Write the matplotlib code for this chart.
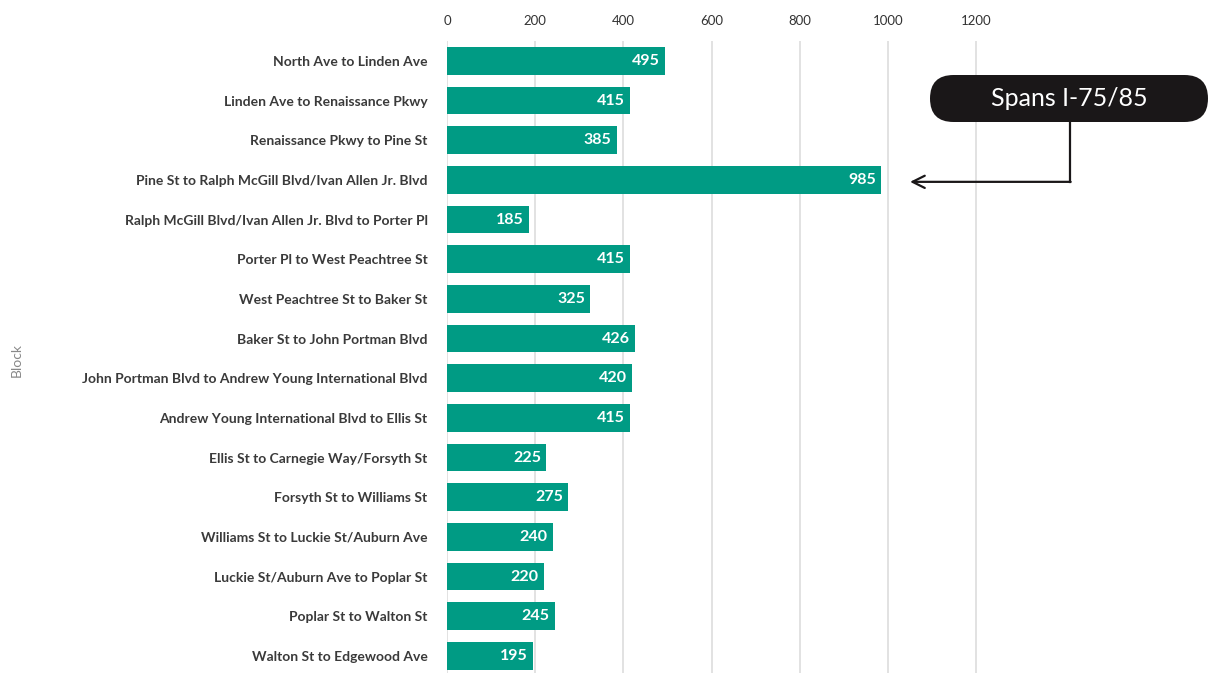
import matplotlib
matplotlib.use("Agg")
import matplotlib.pyplot as plt
from matplotlib.patches import FancyBboxPatch
from matplotlib.transforms import IdentityTransform

blocks = [
    "North Ave to Linden Ave",
    "Linden Ave to Renaissance Pkwy",
    "Renaissance Pkwy to Pine St",
    "Pine St to Ralph McGill Blvd/Ivan Allen Jr. Blvd",
    "Ralph McGill Blvd/Ivan Allen Jr. Blvd to Porter Pl",
    "Porter Pl to West Peachtree St",
    "West Peachtree St to Baker St",
    "Baker St to John Portman Blvd",
    "John Portman Blvd to Andrew Young International Blvd",
    "Andrew Young International Blvd to Ellis St",
    "Ellis St to Carnegie Way/Forsyth St",
    "Forsyth St to Williams St",
    "Williams St to Luckie St/Auburn Ave",
    "Luckie St/Auburn Ave to Poplar St",
    "Poplar St to Walton St",
    "Walton St to Edgewood Ave",
]
lengths = [495, 415, 385, 985, 185, 415, 325, 426, 420, 415, 225, 275, 240, 220, 245, 195]
x_ticks = [0, 200, 400, 600, 800, 1000, 1200]
callout_text = "Spans I-75/85"
callout_row = 3

BAR = "#009B84"
DARK = "#1a1718"
FONT = ["Lato", "DejaVu Sans"]
plt.rcParams["font.family"] = FONT

W, H = 1209, 673
fig = plt.figure(figsize=(W / 100, H / 100), dpi=100)
ax_left = 447 / W
ax = fig.add_axes([ax_left, 0.0, 1 - ax_left, (H - 41) / H])

y = list(range(len(blocks)))
ax.barh(y, lengths, height=0.7, color=BAR, zorder=3)
for yi, v in zip(y, lengths):
    ax.text(v - 12, yi, str(v), ha="right", va="center", color="white",
            fontsize=11.5, fontweight="bold", zorder=4)

ax.set_xlim(0, (W - 447) / 0.441)
ax.set_ylim(15.43, -0.5)
ax.set_xticks(x_ticks)
ax.set_xticklabels([str(t) for t in x_ticks])
ax.xaxis.tick_top()
ax.tick_params(axis="x", length=0, pad=10, labelsize=9.5, labelcolor="#333333")
ax.set_yticks(y)
ax.set_yticklabels(blocks)
ax.tick_params(axis="y", length=0, pad=14, labelsize=10, labelcolor="#3a3a3a")
for lbl in ax.get_yticklabels():
    lbl.set_fontweight("bold")
ax.grid(axis="x", color="#dddddd", linewidth=1.2, zorder=0)
for s in ax.spines.values():
    s.set_visible(False)

fig.text(17 / W, 1 - 360 / H, "Block", rotation=90, ha="center", va="center",
         fontsize=10, color="#888888")

# rounded call-out label, placed in pixel units
bx0, bx1 = 930, 1208
by0, by1 = H - 122, H - 75
box = FancyBboxPatch((bx0, by0), bx1 - bx0, by1 - by0,
                     boxstyle="round,pad=0,rounding_size=23.5",
                     transform=IdentityTransform(),
                     facecolor=DARK, edgecolor="none", zorder=5)
fig.add_artist(box)
fig.text((bx0 + bx1) / 2 / W, (by0 + by1) / 2 / H, callout_text,
         ha="center", va="center", color="white", fontsize=18, zorder=6)

# elbow connector from the label down to the longest block
elbow_x = (1070 - 447) / 0.441
top_y = -0.5 + (122 - 41) / 39.67 * 1.0
ax.plot([elbow_x, elbow_x], [top_y, callout_row + 0.05], color=DARK,
        linewidth=1.6, clip_on=False, zorder=5)
ax.annotate("", xy=(1050, callout_row + 0.05), xytext=(elbow_x + 1.5, callout_row + 0.05),
            arrowprops=dict(arrowstyle="->", color=DARK, lw=1.6,
                            mutation_scale=22, shrinkA=0, shrinkB=0),
            annotation_clip=False, zorder=5)

fig.savefig("out.png", dpi=100)
